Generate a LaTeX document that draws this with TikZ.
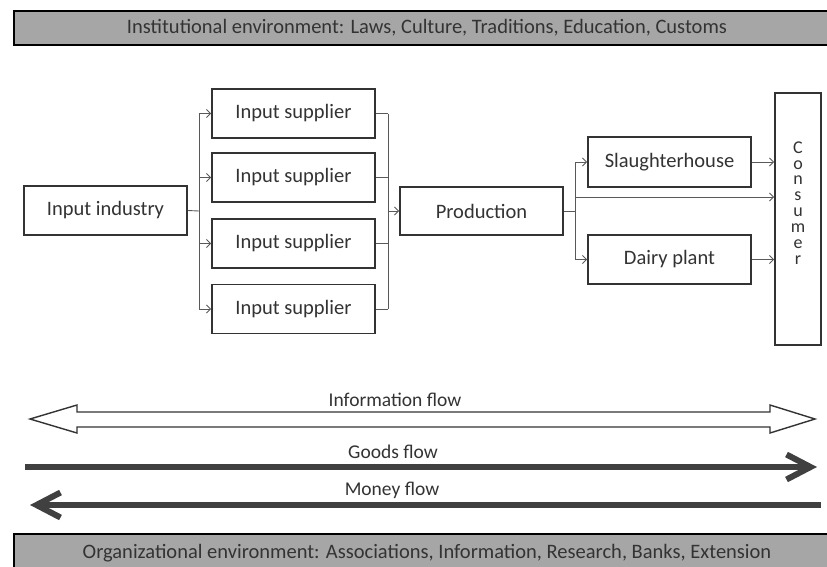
\documentclass[tikz,border=0pt]{standalone}
\usepackage{fontspec}
\setmainfont{Carlito}
\usetikzlibrary{arrows.meta}
\definecolor{bannergray}{HTML}{A6A6A6}
\definecolor{ink}{HTML}{333333}
\definecolor{linkgray}{HTML}{595959}
\definecolor{flowgray}{HTML}{404040}
\begin{document}
\begin{tikzpicture}[x=1pt,y=-1pt,
  box/.style={draw=ink, line width=1.8pt, fill=white, inner sep=0pt,
    minimum width=163pt, minimum height=49pt,
    font=\fontsize{20.5}{23}\selectfont, text=ink},
  banner/.style={draw=black, line width=1.5pt, fill=bannergray, inner sep=0pt,
    minimum width=826pt, font=\fontsize{20.5}{23}\selectfont, text=ink},
  link/.style={draw=linkgray, line width=0.9pt},
  tip/.style={-{Straight Barb[length=4pt,width=8pt]}},
  flowlabel/.style={font=\fontsize{19.5}{22}\selectfont, text=ink},
  flowline/.style={draw=flowgray, line width=6pt},
  chevron/.style={-{Straight Barb[length=24pt,width=25pt]}},
]
\useasboundingbox (0,0) rectangle (827,566);
\clip (0,0) rectangle (827,566);

% environment banners
\node[banner, minimum height=34pt] (inst) at (427,28)
  {Institutional environment: Laws, Culture, Traditions, Education, Customs};
\node[banner, minimum height=38pt] (org) at (427,553)
  {Organizational environment: Associations, Information, Research, Banks, Extension};

% chain stages
\node[box] (ind) at (105.5,210.5) {Input industry};
\node[box] (s1) at (293.5,113.5) {Input supplier};
\node[box] (s2) at (293.5,177.5) {Input supplier};
\node[box] (s3) at (293.5,243.5) {Input supplier};
\node[box] (s4) at (293.5,309) {Input supplier};
\node[box, minimum height=48pt] (prod) at (481.5,211) {Production};
\node[box, minimum height=50pt] (sl) at (669.5,162) {Slaughterhouse};
\node[box] (dp) at (669.5,259.5) {Dairy plant};
\node[box, minimum width=46pt, minimum height=252pt] (cons) at (798,219) {};
\node[font=\fontsize{18}{15.9}\selectfont, text=ink, align=center] (constext) at (798,203)
  {C\\o\\n\\s\\u\\m\\e\\r};

% branching points of the connectors
\coordinate (lb) at (199,211);
\coordinate (rb) at (388,211);
\coordinate (pb) at (575,211);
\coordinate (mid) at (575,197);

% input industry to the suppliers
\draw[link] (ind.east) -- (lb);
\draw[link] (lb |- s1.west) -- (lb |- s4.west);
\foreach \s in {s1,s2,s3,s4}
  \draw[link,tip] (lb |- \s.west) -- (\s.west);

% suppliers to production
\foreach \s in {s1,s2,s3,s4}
  \draw[link] (\s.east) -- (rb |- \s.east);
\draw[link] (rb |- s1.east) -- (rb |- s4.east);
\draw[link,tip] (rb) -- (prod.west);

% production to processing and consumer
\draw[link] (prod.east) -- (pb);
\draw[link] (pb |- sl.west) -- (pb |- dp.west);
\draw[link,tip] (pb |- sl.west) -- (sl.west);
\draw[link,tip] (pb |- dp.west) -- (dp.west);
\draw[link,tip] (mid) -- (mid -| cons.west);
\draw[link,tip] (sl.east) -- (sl.east -| cons.west);
\draw[link,tip] (dp.east) -- (dp.east -| cons.west);

% flows along the chain
\node[flowlabel] (infolbl) at (395,400) {Information flow};
\node[flowlabel] (goodslbl) at (393,452) {Goods flow};
\node[flowlabel] (moneylbl) at (392,490) {Money flow};

\draw[draw=ink, line width=1.4pt, fill=white, line join=miter]
  (30,419) -- (77,405) -- (77,412) -- (770,412) -- (770,405) -- (815,419)
  -- (770,433) -- (770,427) -- (77,427) -- (77,433) -- cycle;

\coordinate (gs) at (25,467);
\coordinate (ge) at (817,467);
\draw[flowline, chevron] (gs) -- (ge);

\coordinate (ms) at (821,505);
\coordinate (me) at (30,505);
\draw[flowline, chevron] (ms) -- (me);
\end{tikzpicture}
\end{document}
